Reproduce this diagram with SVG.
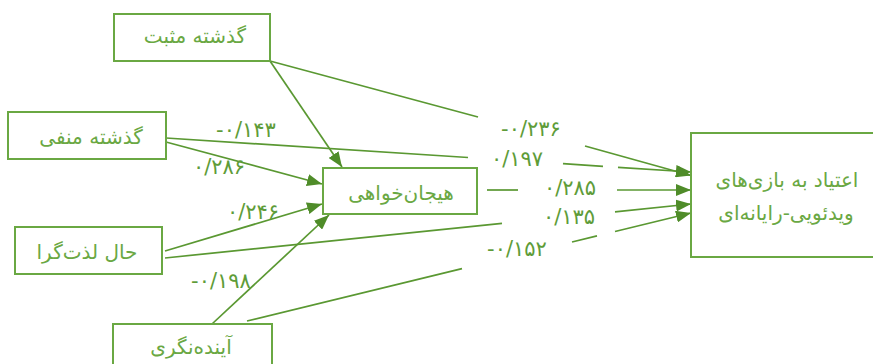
<svg xmlns="http://www.w3.org/2000/svg" width="873" height="364" viewBox="0 0 873 364">
  <style>
    .box { fill: #ffffff; stroke: #6aa843; stroke-width: 2; }
    .lbl { font-family: "DejaVu Sans", "Noto Sans", sans-serif; font-size: 20px; fill: #6aa843; text-anchor: middle; dominant-baseline: central; }
    .num { font-family: "DejaVu Sans", "Noto Sans", sans-serif; font-size: 21px; fill: #5e9c38; text-anchor: middle; dominant-baseline: central; letter-spacing: 2px; }
    .ln { fill: none; stroke: #5a9832; stroke-width: 1.7; }
  </style>
  <defs>
    <marker id="arr" viewBox="0 0 15 12" refX="15" refY="6" markerWidth="15" markerHeight="12" markerUnits="userSpaceOnUse" orient="auto">
      <path d="M0,0 L15,6 L0,12 Z" fill="#4f8c29"/>
    </marker>
  </defs>
  <rect width="873" height="364" fill="#ffffff"/>

  <!-- connectors -->
  <g id="connectors">
    <!-- past positive -->
    <line class="ln" x1="270" y1="61" x2="342" y2="167" marker-end="url(#arr)"/>
    <line class="ln" x1="270" y1="61" x2="478" y2="117"/>
    <line class="ln" x1="585" y1="146" x2="691" y2="175.5" marker-end="url(#arr)"/>
    <!-- past negative -->
    <line class="ln" x1="166" y1="142" x2="322" y2="184" marker-end="url(#arr)"/>
    <line class="ln" x1="166" y1="138" x2="468" y2="157.5"/>
    <line class="ln" x1="563" y1="163.7" x2="603" y2="166.3"/>
    <line class="ln" x1="618" y1="167.3" x2="691" y2="172" marker-end="url(#arr)"/>
    <!-- sensation seeking -->
    <line class="ln" x1="487" y1="190" x2="518" y2="190"/>
    <line class="ln" x1="617" y1="190" x2="691" y2="190" marker-end="url(#arr)"/>
    <!-- present hedonistic -->
    <line class="ln" x1="165" y1="251" x2="322" y2="204" marker-end="url(#arr)"/>
    <line class="ln" x1="165" y1="258" x2="502" y2="223.4"/>
    <line class="ln" x1="615" y1="211.8" x2="691" y2="204" marker-end="url(#arr)"/>
    <!-- future -->
    <line class="ln" x1="212" y1="324" x2="329" y2="215" marker-end="url(#arr)"/>
    <line class="ln" x1="247" y1="321" x2="462" y2="268.7"/>
    <line class="ln" x1="572" y1="242" x2="597" y2="235.9"/>
    <line class="ln" x1="615" y1="231.5" x2="691" y2="213" marker-end="url(#arr)"/>
  </g>

  <!-- path coefficients -->
  <g id="coefficients">
    <text class="num" x="246" y="130">-۰/۱۴۳</text>
    <text class="num" x="219" y="167">۰/۲۸۶</text>
    <text class="num" x="253" y="212">۰/۲۴۶</text>
    <text class="num" x="221" y="281">-۰/۱۹۸</text>
    <text class="num" x="531" y="129">-۰/۲۳۶</text>
    <text class="num" x="517" y="159">۰/۱۹۷</text>
    <text class="num" x="570" y="188">۰/۲۸۵</text>
    <text class="num" x="569" y="217">۰/۱۳۵</text>
    <text class="num" x="517" y="249">-۰/۱۵۲</text>
  </g>

  <g id="past-positive">
    <rect class="box" x="114" y="14" width="156" height="47"/>
    <text class="lbl" x="195" y="36" direction="rtl">گذشته مثبت</text>
  </g>
  <g id="past-negative">
    <rect class="box" x="8" y="112" width="158" height="47"/>
    <text class="lbl" x="91" y="137" direction="rtl">گذشته منفی</text>
  </g>
  <g id="present-hedonistic">
    <rect class="box" x="15" y="227" width="147" height="47"/>
    <text class="lbl" x="87" y="252" direction="rtl">حال لذت‌گرا</text>
  </g>
  <g id="future">
    <rect class="box" x="113" y="324" width="159" height="50"/>
    <text class="lbl" x="191" y="347" direction="rtl">آینده‌نگری</text>
  </g>
  <g id="sensation-seeking">
    <rect class="box" x="323" y="168" width="154" height="46"/>
    <text class="lbl" x="401" y="193" direction="rtl">هیجان‌خواهی</text>
  </g>
  <g id="game-addiction">
    <rect class="box" x="691" y="133" width="200" height="124"/>
    <text class="lbl" x="787" y="180" direction="rtl">اعتیاد به بازی‌های</text>
    <text class="lbl" x="786" y="213" direction="rtl">ویدئویی-رایانه‌ای</text>
  </g>
</svg>
